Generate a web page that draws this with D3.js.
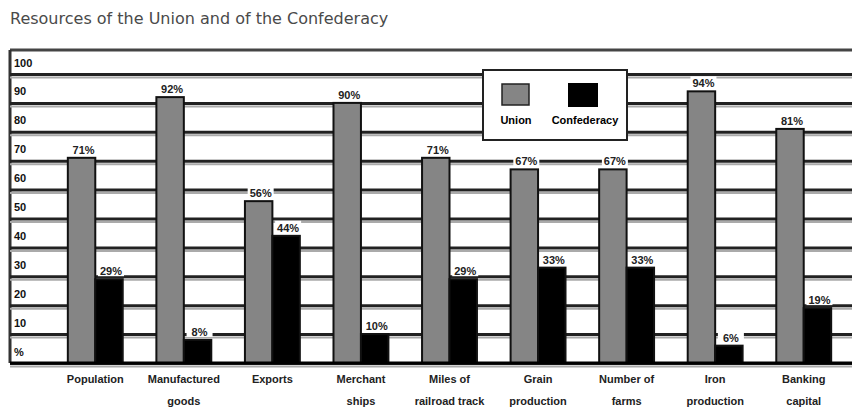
<html>
<head>
<script src="https://d3js.org/d3.v7.min.js"></script>
<style>
  body { margin: 0; background: #fff; }
  text { font-family: "Liberation Sans", Arial, sans-serif; }
</style>
</head>
<body></body>
<script>
  var categories = ["Population", "Manufactured\ngoods", "Exports", "Merchant\nships",
    "Miles of\nrailroad track", "Grain\nproduction", "Number of\nfarms", "Iron\nproduction", "Banking\ncapital"];
  var union = [71, 92, 56, 90, 71, 67, 67, 94, 81];
  var confederacy = [29, 8, 44, 10, 29, 33, 33, 6, 19];
  var series = ["Union", "Confederacy"];
  var yTicks = [0, 10, 20, 30, 40, 50, 60, 70, 80, 90, 100];

  var W = 852, H = 413;
  var plotLeft = 10, plotTop = 50, plotBottom = 363;

  var svg = d3.select("body").append("svg")
    .attr("width", W).attr("height", H);

  // title
  svg.append("text").attr("x", 10).attr("y", 24)
    .text("Resources of the Union and of the Confederacy")
    .style("font-family", "DejaVu Sans")
    .style("font-size", "16px")
    .style("fill", "#4a4a4a");

  var x = d3.scaleBand().domain(categories).range([51, 848]);
  var xs = d3.scaleBand().domain(series).range([x.bandwidth() * 0.19, x.bandwidth() * 0.81]);
  var y = d3.scaleLinear().domain([0, 100]).range([plotBottom, 74]);
  var color = d3.scaleOrdinal().domain(series).range(["#858585", "#000"]);

  // plot frame
  svg.append("line").attr("x1", plotLeft).attr("x2", W).attr("y1", plotTop).attr("y2", plotTop)
    .style("stroke", "#444").style("stroke-width", 3);
  svg.append("line").attr("x1", plotLeft).attr("x2", plotLeft).attr("y1", plotTop).attr("y2", plotBottom)
    .style("stroke", "#333").style("stroke-width", 3);

  // gridlines + y labels
  var yAxis = svg.append("g").attr("transform", "translate(" + plotLeft + ",0)")
    .call(d3.axisRight(y).tickValues(yTicks).tickSize(W - plotLeft)
      .tickFormat(function (d) { return d === 0 ? "%" : d; }));
  yAxis.select(".domain").remove();
  yAxis.selectAll(".tick line").style("stroke", "#222").style("stroke-width", 3);
  yAxis.selectAll(".tick").insert("line", ":first-child")
    .attr("x2", W - plotLeft).attr("y1", 3).attr("y2", 3)
    .style("stroke", "#aaa").style("stroke-width", 2);
  yAxis.selectAll(".tick text")
    .attr("x", 4).attr("dy", -8)
    .style("text-anchor", "start")
    .style("font-size", "11px").style("font-weight", "bold").style("fill", "#111");

  // legend
  var lg = svg.append("g");
  lg.append("rect").attr("x", 483).attr("y", 70).attr("width", 144).attr("height", 70)
    .style("fill", "#fff").style("stroke", "#222").style("stroke-width", 2);
  lg.append("rect").attr("x", 502).attr("y", 84).attr("width", 27).attr("height", 21)
    .style("fill", color("Union")).style("stroke", "#222").style("stroke-width", 1.5);
  lg.append("rect").attr("x", 568).attr("y", 83).attr("width", 30).attr("height", 24)
    .style("fill", color("Confederacy"));
  lg.append("text").attr("x", 516).attr("y", 124).text("Union")
    .style("text-anchor", "middle").style("font-size", "11px").style("font-weight", "bold");
  lg.append("text").attr("x", 585).attr("y", 124).text("Confederacy")
    .style("text-anchor", "middle").style("font-size", "11px").style("font-weight", "bold");

  // bars
  var rows = categories.map(function (c, i) {
    return { cat: c, vals: [{ s: "Union", v: union[i] }, { s: "Confederacy", v: confederacy[i] }] };
  });
  var groups = svg.append("g").selectAll("g").data(rows).enter().append("g")
    .attr("transform", function (d) { return "translate(" + x(d.cat) + ",0)"; });

  groups.selectAll("rect.bar").data(function (d) { return d.vals; }).enter().append("rect")
    .attr("class", "bar")
    .attr("x", function (d) { return xs(d.s); })
    .attr("y", function (d) { return y(d.v); })
    .attr("width", xs.bandwidth())
    .attr("height", function (d) { return y(0) - y(d.v); })
    .style("fill", function (d) { return color(d.s); })
    .style("stroke", "#111").style("stroke-width", 2);

  // value labels on white boxes
  var lab = groups.selectAll("g.lab").data(function (d) { return d.vals; }).enter().append("g")
    .attr("class", "lab")
    .attr("transform", function (d) {
      return "translate(" + (xs(d.s) + xs.bandwidth() / 2 + 2) + "," + (y(d.v) - 4) + ")";
    });
  lab.append("rect").attr("x", -13).attr("y", -11).attr("width", 26).attr("height", 12)
    .style("fill", "#fff");
  lab.append("text")
    .text(function (d) { return d.v + "%"; })
    .style("text-anchor", "middle")
    .style("font-size", "11px").style("font-weight", "bold").style("fill", "#222");

  // baseline
  svg.append("line").attr("x1", plotLeft).attr("x2", W).attr("y1", plotBottom).attr("y2", plotBottom)
    .style("stroke", "#000").style("stroke-width", 3);

  // x axis labels
  var xAxis = svg.append("g").attr("transform", "translate(0," + plotBottom + ")")
    .call(d3.axisBottom(x).tickSize(0).tickFormat(""));
  xAxis.select(".domain").remove();
  xAxis.selectAll(".tick").each(function (d) {
    var t = d3.select(this).append("text")
      .attr("y", 20).style("text-anchor", "middle")
      .style("font-size", "11px").style("font-weight", "bold").style("fill", "#222");
    d.split("\n").forEach(function (line, i) {
      t.append("tspan").attr("x", 0).attr("dy", i === 0 ? 0 : 22).text(line);
    });
  });
</script>
</html>
